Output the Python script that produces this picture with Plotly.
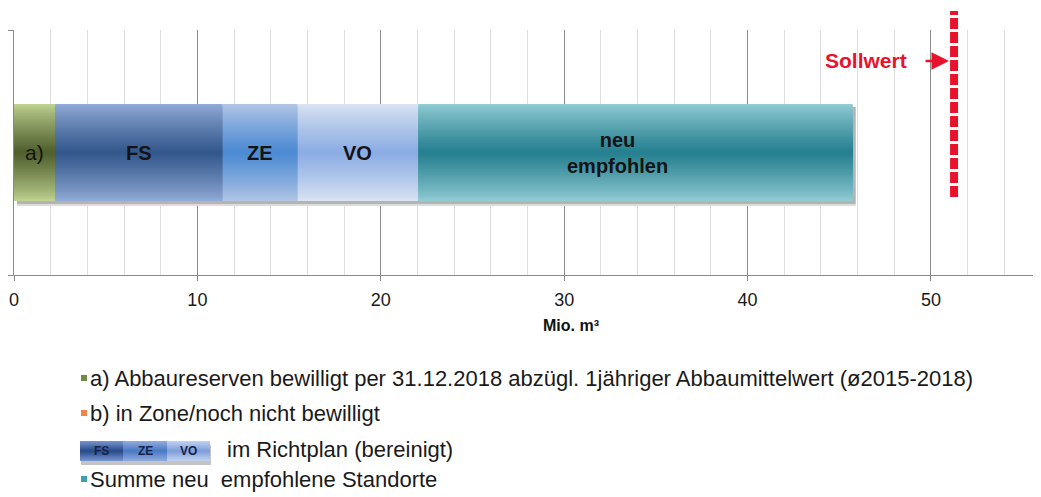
import plotly.graph_objects as go

# ---- data ----
segment_names = ["a)", "FS", "ZE", "VO", "neu<br>empfohlen"]
segment_values = [2.24, 9.14, 4.09, 6.57, 23.69]
sollwert = 51.26
x_ticks = [0, 10, 20, 30, 40, 50]
legend_texts = [
    "a) Abbaureserven bewilligt per 31.12.2018 abzügl. 1jähriger Abbaumittelwert (ø2015-2018)",
    "b) in Zone/noch nicht bewilligt",
    "im Richtplan (bereinigt)",
    "Summe neu  empfohlene Standorte",
]
swatch_labels = ["FS", "ZE", "VO"]

# ---- style ----
light = [(190, 210, 145), (145, 170, 215), (178, 198, 228), (218, 228, 242), (145, 203, 212)]
dark = [(80, 96, 46), (52, 88, 140), (76, 138, 212), (140, 172, 228), (38, 128, 144)]
seg_font_bold = [False, True, True, True, True]
label_xshift = [0, 0, 0, 0, -18]

W = 97 / 122.5  # bar thickness in y units (axis range -1..1 over 245px)
bases = []
acc = 0.0
for v in segment_values:
    bases.append(acc)
    acc += v
total = acc

fig = go.Figure()

# shadow
px_y = 1 / 122.5
px_x = 1 / 18.34
for off_px, col in [(5, "#dcdcdc"), (3, "#b4b4b4")]:
    fig.add_trace(go.Bar(
        orientation="h", y=[0], x=[total], base=[3 * px_x],
        width=W, offset=-W / 2 - off_px * px_y,
        marker=dict(color=col, line=dict(width=0)),
        hoverinfo="skip", showlegend=False))

# gradient layers
N = 26
def mix(c1, c2, t):
    return "rgb(%d,%d,%d)" % tuple(round(a + (b - a) * t) for a, b in zip(c1, c2))

for k in range(N):
    frac = 1 - k / N
    t = (k / (N - 1)) ** 0.85
    cols = [mix(l, d, t) for l, d in zip(light, dark)]
    fig.add_trace(go.Bar(
        orientation="h", y=[0] * len(segment_values), x=segment_values, base=bases,
        width=W * frac,
        marker=dict(color=cols, line=dict(width=0)),
        hoverinfo="skip", showlegend=False))

# segment labels
for name, b, v, bold, xs in zip(segment_names, bases, segment_values, seg_font_bold, label_xshift):
    fig.add_annotation(
        x=b + v / 2, y=0, xref="x", yref="y", showarrow=False, xshift=xs,
        xanchor="center", yanchor="middle",
        text=("<b>%s</b>" % name) if bold else name,
        font=dict(family="Arial, Liberation Sans", size=20 if bold else 21, color="#141414"),
        align="center")

# pixel -> paper helpers (screen pixels of the reference)
L, T, PW, PH = 14, 30, 1027, 245
OFF = 8  # page offset of the plot div
def pxx(x):
    return (x - L) / PW
def pxy(y):
    return (T + PH - y) / PH

red = "rgb(232,18,45)"
fig.add_shape(type="line", xref="x", yref="paper", x0=sollwert, x1=sollwert,
              y0=pxy(197), y1=pxy(11), line=dict(color=red, width=8, dash="11px,3px"))
fig.add_annotation(x=pxx(909), y=pxy(61), xref="paper", yref="paper", xanchor="right",
                   yanchor="middle", showarrow=False, text="<b>Sollwert</b>",
                   font=dict(family="Arial, Liberation Sans", size=21, color=red))
fig.add_annotation(x=pxx(949), y=pxy(61), ax=-25, ay=0, xref="paper", yref="paper",
                   text="", showarrow=True,
                   arrowhead=2, arrowsize=1.4, arrowwidth=2.5, arrowcolor=red)

# x axis title
fig.add_annotation(x=pxx(571), y=pxy(325), xref="paper", yref="paper", showarrow=False,
                   xanchor="center", yanchor="middle",
                   text="<b>Mio. m³</b>", font=dict(family="Arial, Liberation Sans", size=16, color="#111"))

# legend
leg_font = dict(family="Liberation Sans, Arial", size=22, color="#1a1a1a")
marker_cols = ["#6e8c46", "#f0844a", None, "#3ca0af"]
ys = [378, 413, 449, 479]
for txt, col, y in zip(legend_texts, marker_cols, ys):
    if col is not None:
        fig.add_shape(type="rect", xref="paper", yref="paper",
                      x0=pxx(81), x1=pxx(87), y0=pxy(y + 3), y1=pxy(y - 3),
                      fillcolor=col, line=dict(width=0))
        fig.add_annotation(x=pxx(88), y=pxy(y), xref="paper", yref="paper", xanchor="left",
                           yanchor="middle", showarrow=False, text=txt, font=leg_font)
    else:
        fig.add_annotation(x=pxx(225), y=pxy(y), xref="paper", yref="paper", xanchor="left",
                           yanchor="middle", showarrow=False, text=txt, font=leg_font)

# legend swatch for FS / ZE / VO
sw_light = [(115, 145, 205), (140, 170, 222), (190, 208, 238)]
sw_dark = [(42, 78, 140), (78, 122, 195), (128, 160, 220)]
cells = [(80, 123), (123, 167), (167, 210)]
sy0, sy1 = 441, 461
fig.add_shape(type="rect", xref="paper", yref="paper", x0=pxx(81), x1=pxx(211),
              y0=pxy(sy1 + 4), y1=pxy(sy0 + 4), fillcolor="#c4c4c4", line=dict(width=0))
M = 8
cy = (sy0 + sy1) / 2
for (x0, x1), lab, lc, dc in zip(cells, swatch_labels, sw_light, sw_dark):
    for k in range(M):
        h = (sy1 - sy0) / 2 * (1 - k / M)
        t = k / (M - 1)
        fig.add_shape(type="rect", xref="paper", yref="paper", x0=pxx(x0), x1=pxx(x1),
                      y0=pxy(cy + h), y1=pxy(cy - h), fillcolor=mix(lc, dc, t), line=dict(width=0))
    fig.add_annotation(x=pxx((x0 + x1) / 2), y=pxy(cy), xref="paper", yref="paper",
                       xanchor="center", yanchor="middle",
                       showarrow=False, text="<b>%s</b>" % lab,
                       font=dict(family="Arial, Liberation Sans", size=12, color="#14224a"))

fig.update_layout(
    width=1041 - OFF, height=497 - OFF,
    margin=dict(l=L - OFF, r=0, t=T - OFF, b=497 - T - PH),
    paper_bgcolor="white", plot_bgcolor="white",
    barmode="overlay", showlegend=False,
    xaxis=dict(range=[0, 56], tickvals=x_ticks, showgrid=True, gridcolor="#8a8a8a", gridwidth=1,
               zeroline=False, showline=True, linecolor="#8a8a8a", linewidth=1,
               ticks="outside", ticklen=5, tickcolor="#8a8a8a", ticklabelstandoff=3,
               tickfont=dict(family="Arial, Liberation Sans", size=18, color="#1a1a1a"),
               minor=dict(dtick=2, showgrid=True, gridcolor="#dedede", gridwidth=1)),
    yaxis=dict(range=[-1, 1], tickvals=[-1, 1], showticklabels=False, showgrid=False,
               zeroline=False, showline=True, linecolor="#8a8a8a", linewidth=1,
               ticks="outside", ticklen=5, tickcolor="#8a8a8a"),
)

fig.write_html("out.html")
